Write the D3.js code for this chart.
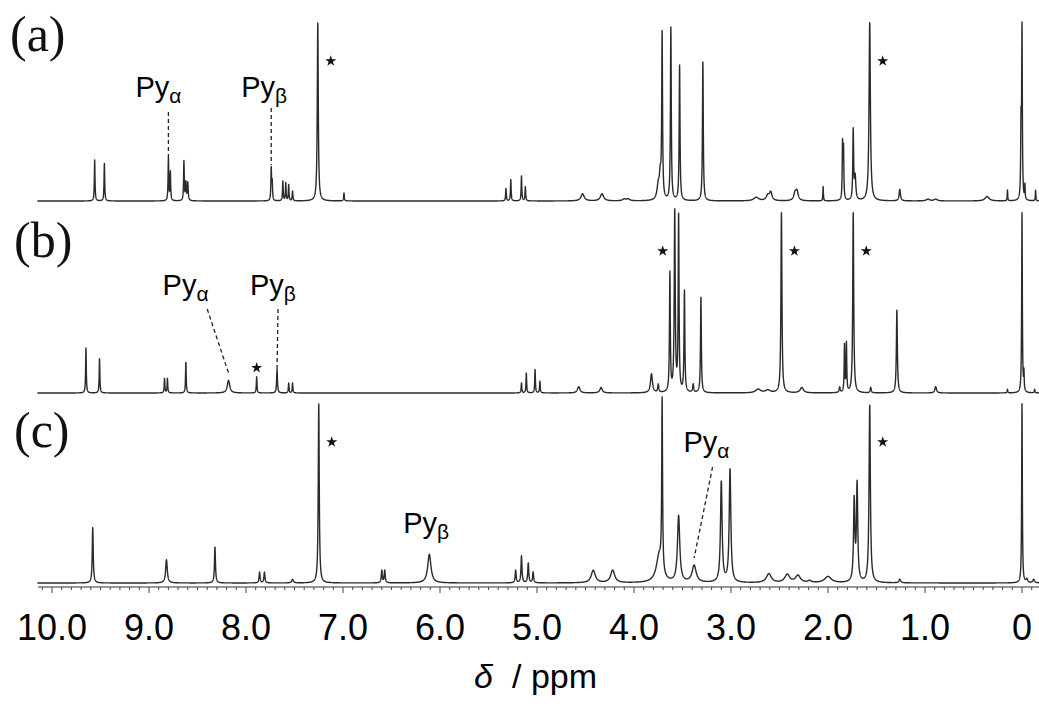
<!DOCTYPE html>
<html lang="en">
<head>
<meta charset="utf-8">
<title>1H NMR spectra</title>
<script src="https://d3js.org/d3.v7.min.js"></script>
<style>
  body { margin: 0; background: #fff; }
</style>
</head>
<body>
<svg id="chart"></svg>
<script>
// peak lists: shift (ppm), intensity (tallest = 100), half width (ppm)
const shiftsA = [9.56, 9.46, 8.80, 8.78, 8.64, 8.62, 8.60, 7.74, 7.73, 7.62, 7.59, 7.56, 7.52, 7.26, 6.99,
  5.32, 5.27, 5.16, 5.12, 4.53, 4.33, 4.10, 4.06, 3.75, 3.73, 3.71, 3.62, 3.53, 3.29, 2.74, 2.62, 2.59,
  2.34, 2.32, 2.05, 1.85, 1.84, 1.74, 1.72, 1.57, 1.26, 0.97, 0.89, 0.36, 0.15, 0.00, 0.01, -0.03, -0.14];
const intensA = [23, 21, 24, 16, 22, 10, 10, 18, 10, 11, 10, 9, 5.5, 100, 4.5,
  7, 12, 14, 8, 4, 4, 1, 1, 8, 12, 92, 97, 76, 78, 2, 3, 4.5,
  4, 5, 8, 31, 28, 39, 13, 100, 6.5, 1, 1, 2.5, 6, 95, 40, 8, 6];
const widthsA = [.004, .004, .004, .004, .004, .005, .005, .004, .004, .004, .004, .004, .004, .006, .004,
  .004, .004, .004, .004, .02, .02, .02, .02, .015, .01, .005, .005, .005, .005, .03, .02, .015,
  .015, .015, .003, .004, .004, .005, .008, .008, .008, .02, .02, .025, .003, .004, .004, .003, .003];

const shiftsB = [9.65, 9.51, 8.84, 8.81, 8.62, 8.18, 7.89, 7.68, 7.56, 7.52, 5.16, 5.11, 5.02, 4.97,
  4.57, 4.34, 3.82, 3.75, 3.63, 3.58, 3.54, 3.48, 3.39, 3.31, 2.72, 2.62, 2.48, 2.27, 1.88, 1.83,
  1.81, 1.74, 1.56, 1.29, 0.89, 0.15, 0.00, -0.02, -0.13];
const intensB = [25, 19, 8, 8, 17, 7, 9, 13, 5.5, 5.5, 5.5, 11, 13, 6.5,
  3.5, 3, 10.5, 4.5, 66, 100, 97, 56, 4.5, 53, 2, 1.5, 100, 3, 3, 26,
  27, 100, 3, 46, 3.5, 2, 100, 10, 2];
const widthsB = [.004, .004, .004, .004, .004, .015, .004, .005, .004, .004, .004, .004, .004, .004,
  .015, .015, .012, .006, .005, .006, .005, .005, .006, .005, .03, .03, .006, .02, .006, .004,
  .004, .006, .006, .006, .01, .004, .004, .003, .004];

const shiftsC = [9.58, 8.82, 8.32, 7.86, 7.81, 7.52, 7.25, 6.60, 6.57, 6.11, 5.22, 5.16, 5.09, 5.04,
  4.42, 4.22, 3.74, 3.71, 3.54, 3.38, 3.10, 3.01, 2.61, 2.42, 2.31, 2.19, 2.00, 1.73, 1.70, 1.57,
  1.26, 0.00, -0.05, -0.12];
const intensC = [31, 13, 20, 6, 6, 2, 100, 7, 7, 16, 7, 15, 11, 6,
  7, 7, 15, 95, 37, 9.5, 56, 63, 5, 4.5, 4, 1, 3.5, 45, 54, 99,
  2, 100, 2, 2];
const widthsC = [.006, .01, .006, .006, .006, .01, .006, .006, .006, .02, .006, .006, .006, .006,
  .025, .025, .035, .005, .014, .025, .01, .01, .03, .03, .03, .02, .04, .008, .008, .008,
  .01, .004, .01, .01];

const panelNames = ['(a)', '(b)', '(c)'];
const tickValues = [10, 9, 8, 7, 6, 5, 4, 3, 2, 1, 0];
const tickLabels = ['10.0', '9.0', '8.0', '7.0', '6.0', '5.0', '4.0', '3.0', '2.0', '1.0', '0'];

// solvent / impurity marks: shift of the peak and where the star sits
const starsA = [[7.26, 'right'], [1.57, 'right']];
const starsB = [[7.89, 'top'], [3.58, 'left'], [2.48, 'right'], [1.74, 'right']];
const starsC = [[7.25, 'right'], [1.57, 'right']];

const width = 1039, height = 704;
const svg = d3.select('#chart').attr('width', width).attr('height', height);

const x = d3.scaleLinear().domain([10, 0]).range([52, 1022]);

const panels = [
  { shifts: shiftsA, intens: intensA, widths: widthsA, base: 201, top: 23, stars: starsA,
    labelY: 51, labelX: 10 },
  { shifts: shiftsB, intens: intensB, widths: widthsB, base: 393, top: 213, stars: starsB,
    labelY: 257, labelX: 14 },
  { shifts: shiftsC, intens: intensC, widths: widthsC, base: 583, top: 404, stars: starsC,
    labelY: 447, labelX: 14 }
];

// sample ppm grid
const grid = d3.range(10.15, -0.185, -0.001);

const line = d3.line()
  .x(d => x(d[0]))
  .y(d => d[1]);

panels.forEach(function(p, k) {
  let y = d3.scaleLinear().domain([0, 100]).range([p.base, p.top]);
  let pts = grid.map(function(v) {
    let s = 0;
    for (let i = 0; i < p.shifts.length; i++) {
      let w = p.widths[i];
      let dv = v - p.shifts[i];
      s += p.intens[i] * w * w / (dv * dv + w * w);
    }
    return [v, y(s)];
  });
  svg.append('path')
    .attr('d', line(pts))
    .attr('fill', 'none')
    .attr('stroke', '#2a2a2a')
    .attr('stroke-width', 1.4)
    .attr('stroke-linejoin', 'round');

  svg.append('text')
    .attr('x', p.labelX)
    .attr('y', p.labelY)
    .attr('font-family', '"Liberation Serif", "DejaVu Serif", serif')
    .attr('font-size', 50)
    .attr('fill', '#111')
    .text(panelNames[k]);

  p.stars.forEach(function(s) {
    let sx = x(s[0]), sy = p.top + 38;
    if (s[1] === 'right') sx += 13;
    if (s[1] === 'left') sx -= 12;
    if (s[1] === 'top') {
      let i = p.shifts.indexOf(s[0]);
      sy = y(p.intens[i]) - 9;
    }
    svg.append('path')
      .attr('d', d3.symbol(d3.symbolStar).size(38)())
      .attr('transform', 'translate(' + sx + ',' + sy + ')')
      .attr('fill', '#111');
  });
});

// Py labels with dashed leader lines (leader: [ppm, y, ppm, y])
const pyNotes = [
  { sub: 'α', tx: 9.14, ty: 97, lead: [8.80, 112, 8.80, 157] },
  { sub: 'β', tx: 8.05, ty: 97, lead: [7.74, 108, 7.74, 165] },
  { sub: 'α', tx: 8.86, ty: 295, lead: [8.40, 309, 8.18, 373] },
  { sub: 'β', tx: 7.96, ty: 295, lead: [7.67, 309, 7.68, 370] },
  { sub: 'β', tx: 6.38, ty: 533, lead: null },
  { sub: 'α', tx: 3.49, ty: 452, lead: [3.19, 467, 3.38, 558] }
];

pyNotes.forEach(function(n) {
  let t = svg.append('text')
    .attr('x', x(n.tx))
    .attr('y', n.ty)
    .attr('font-family', '"Liberation Sans", Arial, sans-serif')
    .attr('font-size', 29)
    .attr('fill', '#000');
  t.append('tspan').text('Py');
  t.append('tspan').attr('dy', 6).attr('font-size', 21).text(n.sub);
  if (n.lead) {
    svg.append('line')
      .attr('x1', x(n.lead[0])).attr('y1', n.lead[1])
      .attr('x2', x(n.lead[2])).attr('y2', n.lead[3])
      .attr('stroke', '#222')
      .attr('stroke-width', 1.3)
      .attr('stroke-dasharray', '4,3');
  }
});

// x axis
const axisY = 587;
const ax = svg.append('g').attr('transform', 'translate(0,' + axisY + ')');
ax.append('line')
  .attr('x1', 38).attr('x2', width)
  .attr('stroke', '#333').attr('stroke-width', 1.2);

const minor = d3.range(101, -2, -1).map(v => v / 10);
ax.selectAll('.minor')
  .data(minor)
  .enter()
  .append('line')
  .attr('x1', d => x(d)).attr('x2', d => x(d))
  .attr('y1', 0)
  .attr('y2', d => Math.abs(d - Math.round(d)) < 1e-6 ? 6 : 3)
  .attr('stroke', '#444')
  .attr('stroke-width', 1);

ax.selectAll('.tl')
  .data(tickValues)
  .enter()
  .append('text')
  .attr('x', d => x(d))
  .attr('y', 53)
  .attr('text-anchor', 'middle')
  .attr('font-family', '"Liberation Sans", Arial, sans-serif')
  .attr('font-size', 36)
  .attr('fill', '#000')
  .text((d, i) => tickLabels[i]);

// axis title
svg.append('text')
  .attr('x', 474)
  .attr('y', 688)
  .attr('font-family', '"Liberation Sans", Arial, sans-serif')
  .attr('font-size', 34)
  .attr('font-style', 'italic')
  .text('δ');
svg.append('text')
  .attr('x', 512)
  .attr('y', 688)
  .attr('font-family', '"Liberation Sans", Arial, sans-serif')
  .attr('font-size', 34)
  .text('/ ppm');
</script>
</body>
</html>
